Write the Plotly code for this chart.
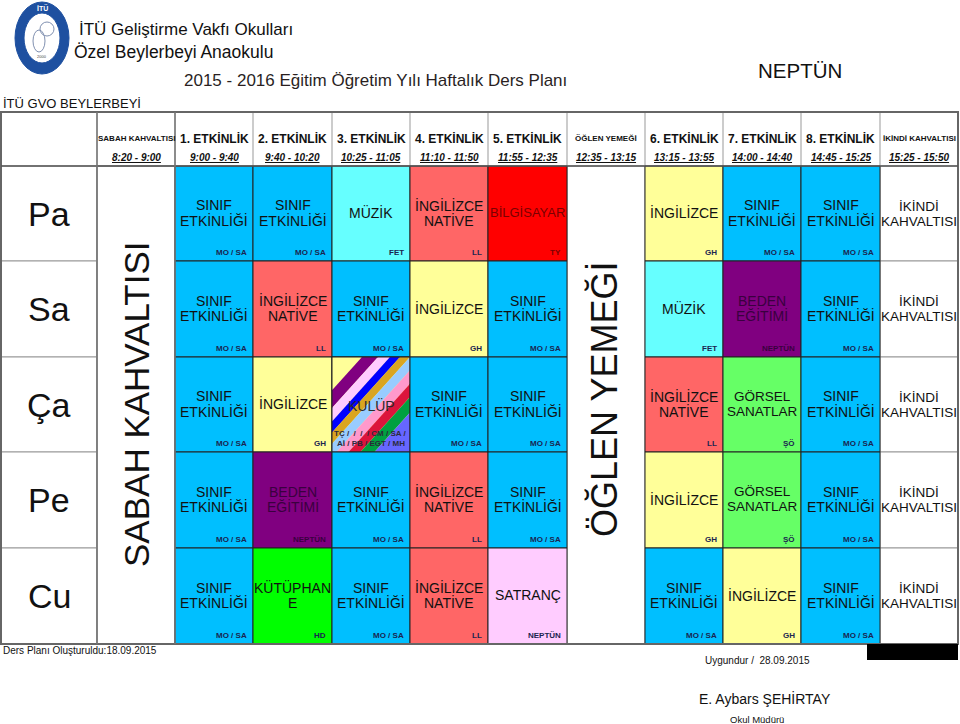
import plotly.graph_objects as go

# ---------------- data ----------------
days = ["Pa", "Sa", "Ça", "Pe", "Cu"]

period_names = ["SABAH KAHVALTISI", "1. ETKİNLİK", "2. ETKİNLİK", "3. ETKİNLİK",
                "4. ETKİNLİK", "5. ETKİNLİK", "ÖĞLEN YEMEĞİ", "6. ETKİNLİK",
                "7. ETKİNLİK", "8. ETKİNLİK", "İKİNDİ KAHVALTISI"]
period_times = ["8:20 - 9:00", "9:00 - 9:40", "9:40 - 10:20", "10:25 - 11:05",
                "11:10 - 11:50", "11:55 - 12:35", "12:35 - 13:15", "13:15 - 13:55",
                "14:00 - 14:40", "14:45 - 15:25", "15:25 - 15:50"]

SE = "SINIF<br>ETKİNLİĞİ"
IN = "İNGİLİZCE<br>NATİVE"
ING = "İNGİLİZCE"
MUZ = "MÜZİK"
BIL = "BİLGİSAYAR"
BED = "BEDEN<br>EĞİTİMİ"
GOR = "GÖRSEL<br>SANATLAR"
KUT = "KÜTÜPHAN<br>E"
SAT = "SATRANÇ"
KUL = "KULÜP"
KULUP_TEACHERS = "TÇ /  /  /  / CM / SA /<br>Aİ / PB / EGT / MH"

pa_lessons = [SE, SE, MUZ, IN, BIL, ING, SE, SE]
pa_teachers = ["MO / SA", "MO / SA", "FET", "LL", "TY", "GH", "MO / SA", "MO / SA"]
sa_lessons = [SE, IN, SE, ING, SE, MUZ, BED, SE]
sa_teachers = ["MO / SA", "LL", "MO / SA", "GH", "MO / SA", "FET", "NEPTÜN", "MO / SA"]
ca_lessons = [SE, ING, KUL, SE, SE, IN, GOR, SE]
ca_teachers = ["MO / SA", "GH", KULUP_TEACHERS, "MO / SA", "MO / SA", "LL", "ŞÖ", "MO / SA"]
pe_lessons = [SE, BED, SE, IN, SE, ING, GOR, SE]
pe_teachers = ["MO / SA", "NEPTÜN", "MO / SA", "LL", "MO / SA", "GH", "ŞÖ", "MO / SA"]
cu_lessons = [SE, KUT, SE, IN, SAT, SE, ING, SE]
cu_teachers = ["MO / SA", "HD", "MO / SA", "LL", "NEPTÜN", "MO / SA", "GH", "MO / SA"]

all_lessons = [pa_lessons, sa_lessons, ca_lessons, pe_lessons, cu_lessons]
all_teachers = [pa_teachers, sa_teachers, ca_teachers, pe_teachers, cu_teachers]

ikindi_text = "İKİNDİ<br>KAHVALTISI"

# ---------------- styles ----------------
fill_map = {SE: "#00BFFF", IN: "#FF6666", ING: "#FFFF99", MUZ: "#66FFFF",
            BIL: "#FF0000", BED: "#800080", GOR: "#66FF66", KUT: "#00FF00",
            SAT: "#FFCCFF", KUL: "#FFFF99"}
text_color_map = {BIL: "#7A0000", BED: "#3A003F"}
stripe_colors = ["#FFFF99", "#800080", "#FFCCFF", "#0000FF", "#DAA520",
                 "#99CCFF", "#FF99CC", "#DC143C", "#00A040", "#6666FF"]
stripe_bounds = [0, 30, 46, 58, 68, 78, 90, 102, 114, 128, 200]

FONT = "Liberation Sans, Arial, sans-serif"
col_edges = [1, 97, 175, 253, 332, 410, 488, 567, 645, 723, 801, 880, 958]
row_edges = [166, 261, 357, 452, 548, 644]
header_top = 112
activity_cols = [2, 3, 4, 5, 6, 8, 9, 10]

fig = go.Figure()
shapes = []
ann = []


def text(x, y, s, size, color="#111", bold=False, xanchor="center", yanchor="middle",
         angle=0, italic=False, underline=False):
    if bold:
        s = "<b>" + s + "</b>"
    if italic:
        s = "<i>" + s + "</i>"
    if underline:
        s = "<u>" + s + "</u>"
    ann.append(dict(x=x, y=y, xref="x", yref="y", text=s, showarrow=False,
                    xanchor=xanchor, yanchor=yanchor, textangle=angle,
                    font=dict(family=FONT, size=size, color=color), borderpad=0))


def rect(x0, y0, x1, y1, fill, line="#222", width=1):
    shapes.append(dict(type="rect", xref="x", yref="y", x0=x0, y0=y0, x1=x1, y1=y1,
                       fillcolor=fill, line=dict(color=line, width=width), layer="above"))


def multiline(xc, yc, s, size, color, gap):
    lines = s.split("<br>")
    n = len(lines)
    for i, ln in enumerate(lines):
        text(xc, yc + (i - (n - 1) / 2) * gap, ln, size, color)


def clip(poly, f):
    out = []
    for i in range(len(poly)):
        p, q = poly[i], poly[(i + 1) % len(poly)]
        fp, fq = f(p), f(q)
        if fp >= 0:
            out.append(p)
        if (fp >= 0) != (fq >= 0):
            t = fp / (fp - fq)
            out.append((p[0] + t * (q[0] - p[0]), p[1] + t * (q[1] - p[1])))
    return out


# ---------------- header ----------------
for c, (nm, tm) in enumerate(zip(period_names, period_times)):
    x0, x1 = col_edges[c + 1], col_edges[c + 2]
    xc = (x0 + x1) / 2
    small = nm in ("SABAH KAHVALTISI", "ÖĞLEN YEMEĞİ", "İKİNDİ KAHVALTISI")
    text(xc, 138, nm, 8 if small else 12, "#111", bold=True)
    text(xc, 157, tm, 10, "#111", bold=True, italic=True, underline=True)
    shapes.append(dict(type="line", xref="x", yref="y", x0=x0, x1=x0, y0=header_top,
                       y1=row_edges[0], line=dict(color="#999", width=1)))

# ---------------- white cells (day labels, breaks) ----------------
for r, d in enumerate(days):
    y0, y1 = row_edges[r], row_edges[r + 1]
    rect(col_edges[0], y0, col_edges[1], y1, "white", "#999", 1)
    text((col_edges[0] + col_edges[1]) / 2, (y0 + y1) / 2, d, 34, "#111")
    rect(col_edges[11], y0, col_edges[12], y1, "white", "#999", 1)
    multiline((col_edges[11] + col_edges[12]) / 2, (y0 + y1) / 2, ikindi_text, 13.5, "#111", 15)

rect(col_edges[1], row_edges[0], col_edges[2], row_edges[-1], "white", "#888", 1.5)
rect(col_edges[7], row_edges[0], col_edges[8], row_edges[-1], "white", "#888", 1)
text((col_edges[1] + col_edges[2]) / 2, (row_edges[0] + row_edges[-1]) / 2,
     period_names[0], 35, "#111", angle=-90)
text((col_edges[7] + col_edges[8]) / 2 - 2, (row_edges[0] + row_edges[-1]) / 2 - 5,
     period_names[6], 36, "#111", angle=-90)

# ---------------- lesson cells ----------------
hx, hy, htxt = [], [], []
for r, (lessons, teachers) in enumerate(zip(all_lessons, all_teachers)):
    y0, y1 = row_edges[r], row_edges[r + 1]
    for k, (les, tea) in enumerate(zip(lessons, teachers)):
        c = activity_cols[k]
        x0, x1 = col_edges[c], col_edges[c + 1]
        xc, yc = (x0 + x1) / 2, (y0 + y1) / 2
        hx.append(xc); hy.append(yc)
        htxt.append(days[r] + " " + period_names[c - 1] + ": " + les.replace("<br>", " ") + " (" + tea.replace("<br>", " ") + ")")
        tcol = text_color_map.get(les, "#111")
        if les == KUL:
            rect(x0, y0, x1, y1, fill_map[les], "#222", 1)
            kk = 0.9
            base = [(x0, y0), (x1, y0), (x1, y1), (x0, y1)]
            for i, col in enumerate(stripe_colors):
                s0, s1 = stripe_bounds[i], stripe_bounds[i + 1]
                poly = clip(base, lambda p, s0=s0: (p[0] - x0) + kk * (p[1] - y0) - s0)
                poly = clip(poly, lambda p, s1=s1: s1 - ((p[0] - x0) + kk * (p[1] - y0)))
                if len(poly) >= 3:
                    path = "M " + " L ".join(f"{px:.2f},{py:.2f}" for px, py in poly) + " Z"
                    shapes.append(dict(type="path", xref="x", yref="y", path=path,
                                       fillcolor=col, line=dict(width=0), layer="above"))
            rect(x0, y0, x1, y1, "rgba(0,0,0,0)", "#222", 1)
            text(xc, yc + 1, les, 14, "#2a2a2a")
            lines = tea.split("<br>")
            text(x1 - 3, y1 - 19, lines[0], 8, "#2a2a3a", bold=True, xanchor="right")
            text(x1 - 4, y1 - 9, lines[1], 8, "#2a2a3a", bold=True, xanchor="right")
        else:
            rect(x0, y0, x1, y1, fill_map[les], "#222", 1)
            size = 13 if les == BIL else (13.5 if les == GOR else 14)
            multiline(xc, yc - 1, les, size, tcol, 15)
            tc = "#3A003F" if les == BED else ("#7A0000" if les == BIL else "#1b2550")
            text(x1 - 5, y1 - 9, tea, 8, tc, bold=True, xanchor="right")

fig.add_trace(go.Scatter(x=hx, y=hy, mode="markers", marker=dict(size=1, opacity=0),
                         text=htxt, hoverinfo="text", showlegend=False))

# ---------------- frame ----------------
rect(col_edges[0], header_top, col_edges[-1], row_edges[-1], "rgba(0,0,0,0)", "#666", 2)
shapes.append(dict(type="line", xref="x", yref="y", x0=col_edges[0], x1=col_edges[-1],
                   y0=row_edges[0], y1=row_edges[0], line=dict(color="#555", width=1.5), layer="above"))
for cx in (col_edges[1], col_edges[2]):
    shapes.append(dict(type="line", xref="x", yref="y", x0=cx, x1=cx, y0=header_top,
                       y1=row_edges[-1], line=dict(color="#777", width=1.5), layer="above"))

# black block under last column
rect(867, row_edges[-1], col_edges[-1], 660, "black", "black", 0)

# ---------------- logo ----------------
shapes.append(dict(type="circle", xref="x", yref="y", x0=15, x1=69, y0=2, y1=74,
                   fillcolor="#1E50A0", line=dict(color="#1E50A0", width=1)))
shapes.append(dict(type="circle", xref="x", yref="y", x0=24, x1=60, y0=13, y1=63,
                   fillcolor="white", line=dict(color="#1E50A0", width=1)))
shapes.append(dict(type="circle", xref="x", yref="y", x0=33, x1=45, y0=30, y1=52,
                   fillcolor="rgba(0,0,0,0)", line=dict(color="#8090B0", width=1)))
shapes.append(dict(type="circle", xref="x", yref="y", x0=40, x1=54, y0=22, y1=36,
                   fillcolor="rgba(0,0,0,0)", line=dict(color="#8090B0", width=1)))
text(42, 8, "İTÜ", 7, "white", bold=True)
text(42, 56, "2000", 4, "#444")

# ---------------- titles ----------------
text(78, 29, "İTÜ Geliştirme Vakfı Okulları", 17, "#111", xanchor="left")
text(73, 52, "Özel Beylerbeyi Anaokulu", 17.5, "#111", xanchor="left")
text(183, 80, "2015 - 2016 Eğitim Öğretim Yılı Haftalık Ders Planı", 17, "#2a1f1f", xanchor="left")
text(800, 70, "NEPTÜN", 20.5, "#111")
text(2, 103, "İTÜ GVO BEYLERBEYİ", 13, "#111", xanchor="left")

# ---------------- footer ----------------
text(2, 650, "Ders Planı Oluşturuldu:18.09.2015", 10, "#111", xanchor="left")
text(757, 660, "Uygundur /  28.09.2015", 10, "#111")
text(765, 698, "E. Aybars ŞEHİRTAY", 14, "#111")
text(757, 719, "Okul Müdürü", 9.5, "#111")

fig.update_layout(
    width=960, height=724, margin=dict(l=0, r=0, t=0, b=0),
    paper_bgcolor="white", plot_bgcolor="white",
    xaxis=dict(range=[0, 960], visible=False, fixedrange=True),
    yaxis=dict(range=[724, 0], visible=False, fixedrange=True),
    shapes=shapes, annotations=ann, showlegend=False,
)
fig.write_html("out.html", config={"displayModeBar": False},
               post_script="document.body.style.margin='0px';document.body.style.overflow='hidden';")
